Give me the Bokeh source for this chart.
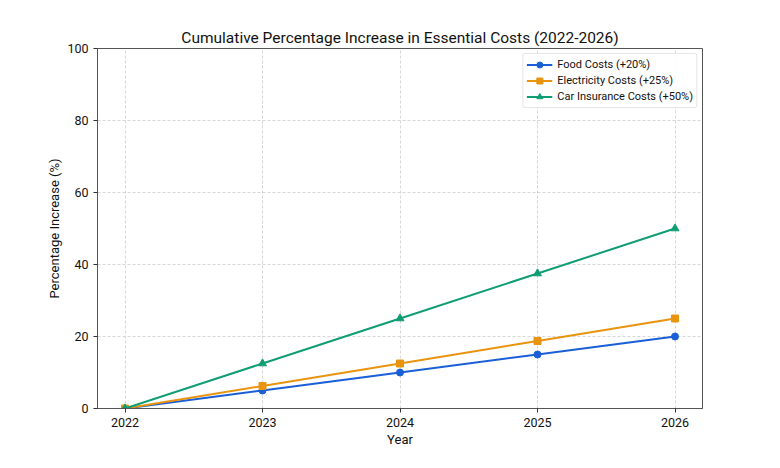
from bokeh.plotting import figure
from bokeh.embed import file_html
from bokeh.resources import INLINE
from bokeh.models import Range1d, FixedTicker, Legend, LegendItem

years = [2022, 2023, 2024, 2025, 2026]
food = [0, 5, 10, 15, 20]
electricity = [0, 6.25, 12.5, 18.75, 25]
car_insurance = [0, 12.5, 25, 37.5, 50]
y_ticks = [0, 20, 40, 60, 80, 100]

FONT = "Roboto"
blue = "#1a5fd6"
orange = "#e8940f"
green = "#0f9d74"

p = figure(width=764, height=452, output_backend="svg", toolbar_location=None,
           x_range=Range1d(2021.8, 2026.2), y_range=Range1d(0, 100),
           min_border_left=97, min_border_right=62, min_border_top=48, min_border_bottom=44)

p.title.text = "Cumulative Percentage Increase in Essential Costs (2022-2026)"
p.title.align = "center"
p.title.text_font = FONT
p.title.text_font_size = "15.5px"
p.title.text_font_style = "normal"
p.title.text_color = "#111111"
p.title.standoff = 3

p.outline_line_color = "#555555"
p.outline_line_width = 1

for ax in (p.xaxis, p.yaxis):
    ax.axis_line_color = "#555555"
    ax.major_tick_line_color = "#333333"
    ax.major_tick_out = 4
    ax.major_tick_in = 0
    ax.minor_tick_line_color = None
    ax.major_label_text_font = FONT
    ax.major_label_text_font_size = "12.5px"
    ax.major_label_text_color = "#111111"
    ax.axis_label_text_font = FONT
    ax.axis_label_text_font_size = "13px"
    ax.axis_label_text_font_style = "normal"
    ax.axis_label_text_color = "#111111"
    ax.axis_label_standoff = 2

p.xaxis.ticker = FixedTicker(ticks=years)
p.yaxis.ticker = FixedTicker(ticks=y_ticks)
p.xaxis.axis_label = "Year"
p.yaxis.axis_label = "Percentage Increase (%)"

p.grid.grid_line_color = "#cccccc"
p.grid.grid_line_dash = "3 2"
p.grid.grid_line_width = 0.8

r1l = p.line(years, food, line_color=blue, line_width=2)
r1m = p.scatter(years, food, marker="circle", size=7, fill_color=blue, line_color=blue)
r2l = p.line(years, electricity, line_color=orange, line_width=2)
r2m = p.scatter(years, electricity, marker="square", size=7, fill_color=orange, line_color=orange)
r3l = p.line(years, car_insurance, line_color=green, line_width=2)
r3m = p.scatter(years, car_insurance, marker="triangle", size=8, fill_color=green, line_color=green)

legend = Legend(items=[
    LegendItem(label="Food Costs (+20%)", renderers=[r1l, r1m]),
    LegendItem(label="Electricity Costs (+25%)", renderers=[r2l, r2m]),
    LegendItem(label="Car Insurance Costs (+50%)", renderers=[r3l, r3m]),
], location="top_right")
legend.label_text_font = FONT
legend.label_text_font_size = "11px"
legend.label_text_color = "#111111"
legend.glyph_width = 26
legend.glyph_height = 15
legend.spacing = 1
legend.padding = 3
legend.margin = 5
legend.label_height = 15
legend.label_standoff = 5
legend.border_line_color = "#cccccc"
legend.border_radius = 3
legend.background_fill_alpha = 0.9
p.add_layout(legend)

open("out.html", "w").write(file_html(p, INLINE))
